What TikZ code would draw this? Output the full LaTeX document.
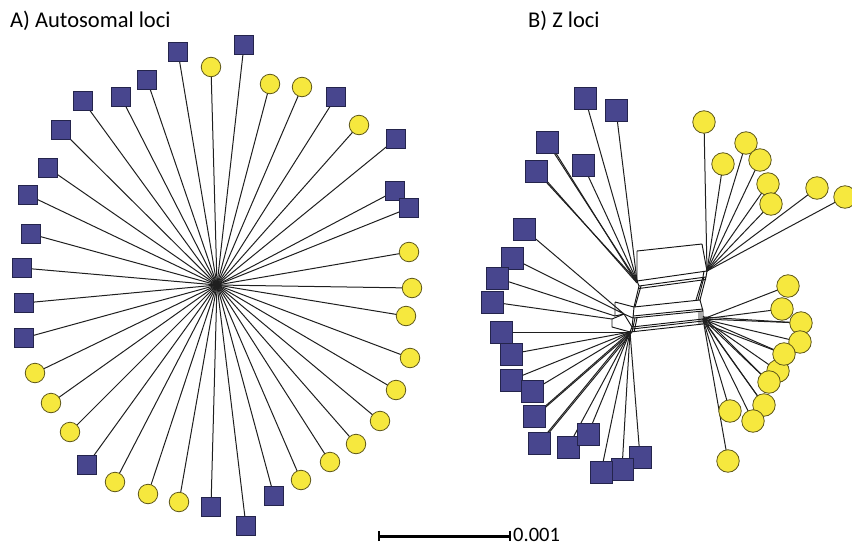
\documentclass[tikz,border=0pt]{standalone}
\usepackage{fontspec}
\setmainfont{Carlito}
\usetikzlibrary{backgrounds}
\definecolor{sqfill}{RGB}{72,70,142}
\definecolor{sqline}{RGB}{36,36,76}
\definecolor{cfill}{RGB}{246,232,62}
\definecolor{cline}{RGB}{95,88,26}
\begin{document}
\begin{tikzpicture}[x=1pt,y=-1pt,
  sqA/.style={shape=rectangle,draw=sqline,fill=sqfill,line width=0.7pt,minimum size=19pt,inner sep=0pt},
  cirA/.style={circle,draw=cline,fill=cfill,line width=0.8pt,minimum size=19.5pt,inner sep=0pt},
  sqB/.style={sqA,minimum size=22pt},
  cirB/.style={cirA,minimum size=22.5pt},
  leaf/.style={line width=1pt,draw=black!88},
  split/.style={line width=0.95pt,draw=black!92},
  title/.style={anchor=base west,inner sep=0pt,font=\fontsize{22.5}{22.5}\selectfont}]
\useasboundingbox (0,0) rectangle (852,549);

% ---------- A) star network ----------
\node[title] (titleA) at (10,27) {A) Autosomal loci};
\coordinate (hubA) at (217,285);
\foreach \n/\x/\y in {1/178/52,2/244/45,3/147/80,4/121/97,5/83/101,6/61/130,7/48/168,
  8/28/195,9/31/234,10/22/268,11/24/303,12/24/338,13/336/97,14/396/139,15/395/191,
  16/409/208,17/87/465,18/211/507,19/246/526,20/274/496}
  \node[sqA] (as\n) at (\x,\y) {};
\foreach \n/\x/\y in {1/211/67,2/270/84,3/302/87,4/359/125,5/409/252,6/412/288,7/406/316,
  8/410/358,9/396/390,10/380/421,11/356/444,12/330/462,13/301/480,14/179/502,15/148/494,
  16/115/482,17/70/432,18/51/403,19/35/373}
  \node[cirA] (ac\n) at (\x,\y) {};
\begin{scope}[on background layer]
  \foreach \n in {1,...,20} \draw[leaf] (hubA) -- (as\n.center);
  \foreach \n in {1,...,19} \draw[leaf] (hubA) -- (ac\n.center);
  \draw[leaf,line width=1.6pt] ([xshift=-2.5pt]hubA) -- ([xshift=2.5pt]hubA);
\end{scope}

% ---------- B) split network ----------
\node[title] (titleB) at (528,27) {B) Z loci};
% left and right spines of the splits graph
\coordinate (LA) at (637,251); \coordinate (RA) at (702,244);
\coordinate (LB) at (637,281); \coordinate (RB) at (707,271);
\coordinate (LC) at (639,286); \coordinate (RC) at (706,277);
\coordinate (LD) at (634,307); \coordinate (RD) at (700,300);
\coordinate (LE) at (633,318); \coordinate (RE) at (703,311);
\coordinate (LF) at (632,327); \coordinate (RF) at (703,319);
\coordinate (LG) at (630,332); \coordinate (RG) at (703,324);
\coordinate (KA) at (615,302); \coordinate (KB) at (615,316);
\coordinate (KC) at (612,319); \coordinate (KD) at (612,327);
\coordinate (PH) at (624,314);

\foreach \n/\x/\y in {1/585/98,2/616/110,3/547/142,4/536/171,5/583/165,6/524/229,
  7/512/258,8/497/278,9/492/302,10/501/332,11/511/354,12/511/380,13/532/391,14/534/416,
  15/539/443,16/568/447,17/588/434,20/640/457,19/622/469,18/601/472}
  \node[sqB] (bs\n) at (\x,\y) {};
\foreach \n/\x/\y in {1/704/122,2/723/164,3/746/143,4/760/160,5/768/184,6/771/204,
  7/817/188,8/845/197,9/788/286,10/782/309,11/801/323,12/800/342,14/778/371,13/784/354,
  15/769/382,16/764/405,17/753/421,18/730/411,19/728/461}
  \node[cirB] (bc\n) at (\x,\y) {};

\begin{scope}[on background layer]
  % parallel edges of the splits
  \draw[split] (LA) -- (RA) (LA) -- (LB) (RA) -- (RB);
  \draw[split] (LB) -- (RB) (LB) -- (LC) (RB) -- (RC) (LC) -- (RC);
  \draw[split] (LC) -- (LD) (RC) -- (RD) (LD) -- (RD);
  \draw[split] (LD) -- (LE) (RD) -- (RE) (LE) -- (RE);
  \draw[split] (LE) -- (LF) (RE) -- (RF) (LF) -- (RF);
  \draw[split] (LF) -- (LG) (RF) -- (RG) (LG) -- (RG);
  \draw[split] ([xshift=2pt]LC) -- ([xshift=1pt]LD) ([xshift=-2pt]RC) -- ([xshift=-2pt]RD);
  \draw[split] ([xshift=-3pt]RB) -- ([xshift=-3pt]RC) -- ([xshift=-4pt]RD);
  \draw[split] ([yshift=-2pt]LF) -- ([yshift=-2pt]RF) ([yshift=2pt]LE) -- ([yshift=2pt]RE);
  \draw[split] ([yshift=-2.5pt]LC) -- ([yshift=-2.5pt]RC);
  \draw[split] ([xshift=-2pt]RE) -- ([xshift=-2pt]RG) ([xshift=2pt]LE) -- ([xshift=2pt]LG);
  \draw[split] ([xshift=4pt]LE) -- ([xshift=4pt]LG) ([xshift=-4pt]RE) -- ([xshift=-4pt]RG);
  \draw[split] (KA) -- (LD) (KA) -- (KB) -- (PH) -- (LE);
  \draw[split] (KC) -- (KD) -- (LG) (KC) -- (PH) (PH) -- (LF);
  % leaves
  \foreach \n in {1,...,5} \draw[leaf] (LB) -- (bs\n.center);
  \draw[leaf] (PH) -- (bs6.center) (PH) -- (bs7.center);
  \draw[leaf] (KB) -- (bs8.center) (KC) -- (bs9.center);
  \foreach \n in {10,...,20} \draw[leaf] (LG) -- (bs\n.center);
  \draw[leaf] ([xshift=2pt]LG) -- ([xshift=1.5pt]bs14.center) ([xshift=2pt]LG) -- ([xshift=1.5pt]bs15.center);
  \draw[leaf] ([yshift=-2pt]LB) -- ([xshift=2pt]bs3.center) ([yshift=-2pt]LB) -- ([xshift=2pt]bs4.center);
  \foreach \n in {1,...,8} \draw[leaf] (RB) -- (bc\n.center);
  \foreach \n in {9,...,19} \draw[leaf] (RF) -- (bc\n.center);
  \draw[leaf] ([yshift=2pt]RF) -- (bc11.center) ([xshift=2pt]RG) -- (bc13.center);
  \draw[leaf] ([yshift=3pt]RF) -- (bc15.center) ([xshift=3pt]RG) -- (bc16.center);
\end{scope}

% ---------- scale bar ----------
\coordinate (sbL) at (379,536);
\coordinate (sbR) at (510,536);
\draw[line width=3pt] (sbL) -- (sbR);
\draw[line width=2.6pt] ([yshift=-5pt]sbL) -- ([yshift=5pt]sbL);
\draw[line width=2.6pt] ([yshift=-5pt]sbR) -- ([yshift=5pt]sbR);
\node[anchor=west,inner sep=0pt,font=\fontsize{20.5}{20.5}\selectfont] (sblabel) at (513,535) {0.001};
\end{tikzpicture}
\end{document}
